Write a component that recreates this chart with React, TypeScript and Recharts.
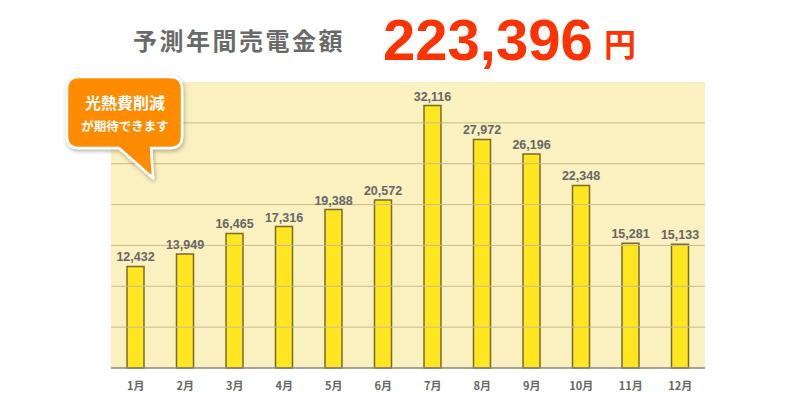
import React from "react";
import { BarChart, Bar, XAxis, YAxis, CartesianGrid, LabelList, ReferenceLine } from "recharts";

// 月別の予測売電金額
const months = ["1月", "2月", "3月", "4月", "5月", "6月", "7月", "8月", "9月", "10月", "11月", "12月"];
const amounts = [12432, 13949, 16465, 17316, 19388, 20572, 32116, 27972, 26196, 22348, 15281, 15133];
const gridValues = [5000, 10000, 15000, 20000, 25000, 30000];
const totalText = "223,396";

const data = months.map((m, i) => ({ month: m, value: amounts[i] }));

const fmt = (v: any) => Number(v).toLocaleString("en-US");

const App: React.FC = () => {
  return (
    <div style={{ position: "fixed", left: 0, top: 0, width: 812, height: 394, background: "#fff" }}>
      <BarChart
        width={812}
        height={394}
        data={data}
        margin={{ top: 82, right: 107, bottom: 0, left: 111 }}
        barSize={17}
      >
        <CartesianGrid vertical={false} horizontal={false} fill="#fbf0c0" />
        {gridValues.map((v) => (
          <ReferenceLine key={v} y={v} stroke="#c9bc8e" strokeWidth={1} />
        ))}
        <XAxis
          dataKey="month"
          height={26}
          tickLine={false}
          tickMargin={8}
          axisLine={{ stroke: "#8a8a7a", strokeWidth: 1.5 }}
          tick={{ fill: "#666", fontSize: 11, fontWeight: "bold", fontFamily: "Noto Sans CJK JP" }}
        />
        <YAxis
          width={0}
          domain={[0, 35000]}
          tick={false}
          tickLine={false}
          axisLine={{ stroke: "#9a9a8a", strokeWidth: 1.5 }}
        />
        <YAxis
          yAxisId="r"
          orientation="right"
          width={0}
          domain={[0, 35000]}
          tick={false}
          tickLine={false}
          axisLine={{ stroke: "#a8a498", strokeWidth: 2 }}
        />
        <Bar dataKey="value" fill="#ffe620" stroke="#7a6a2e" strokeWidth={1.5} isAnimationActive={false}>
          <LabelList
            dataKey="value"
            position="top"
            formatter={fmt}
            style={{ fill: "#666", fontSize: 12.5, fontWeight: "bold", fontFamily: "Liberation Sans" }}
          />
        </Bar>
      </BarChart>
      <svg width={812} height={394} style={{ position: "absolute", left: 0, top: 0, pointerEvents: "none" }}>
        <defs>
          <filter id="sh" x="-20%" y="-20%" width="140%" height="150%">
            <feDropShadow dx="1" dy="2" stdDeviation="2" floodColor="#000" floodOpacity="0.3" />
          </filter>
        </defs>
        <text
          x={133}
          y={50}
          fill="#6a6a6a"
          fontSize={24}
          fontWeight="bold"
          letterSpacing={2.5}
          fontFamily="Noto Sans CJK JP"
        >
          予測年間売電金額
        </text>
        <text x={383} y={60} fill="#ff3300" fontSize={58} fontWeight="bold" fontFamily="Liberation Sans">
          {totalText}
        </text>
        <text x={604} y={56} fill="#ff3300" fontSize={32} fontWeight="bold" fontFamily="Noto Sans CJK JP">
          円
        </text>
        <g filter="url(#sh)">
          <path
            d="M79,77 H170 Q182,77 182,89 V136 Q182,148 170,148 H151 L153,178 L119,148 H79 Q67,148 67,136 V89 Q67,77 79,77 Z"
            fill="#ff8c00"
            stroke="#fff"
            strokeWidth={2.5}
            strokeLinejoin="round"
          />
        </g>
        <text x={125} y={109} fill="#fff" fontSize={16} fontWeight="bold" textAnchor="middle" fontFamily="Noto Sans CJK JP">
          光熱費削減
        </text>
        <text x={125} y={131} fill="#fff" fontSize={12.5} fontWeight="bold" textAnchor="middle" fontFamily="Noto Sans CJK JP">
          が期待できます
        </text>
      </svg>
    </div>
  );
};

export default App;
